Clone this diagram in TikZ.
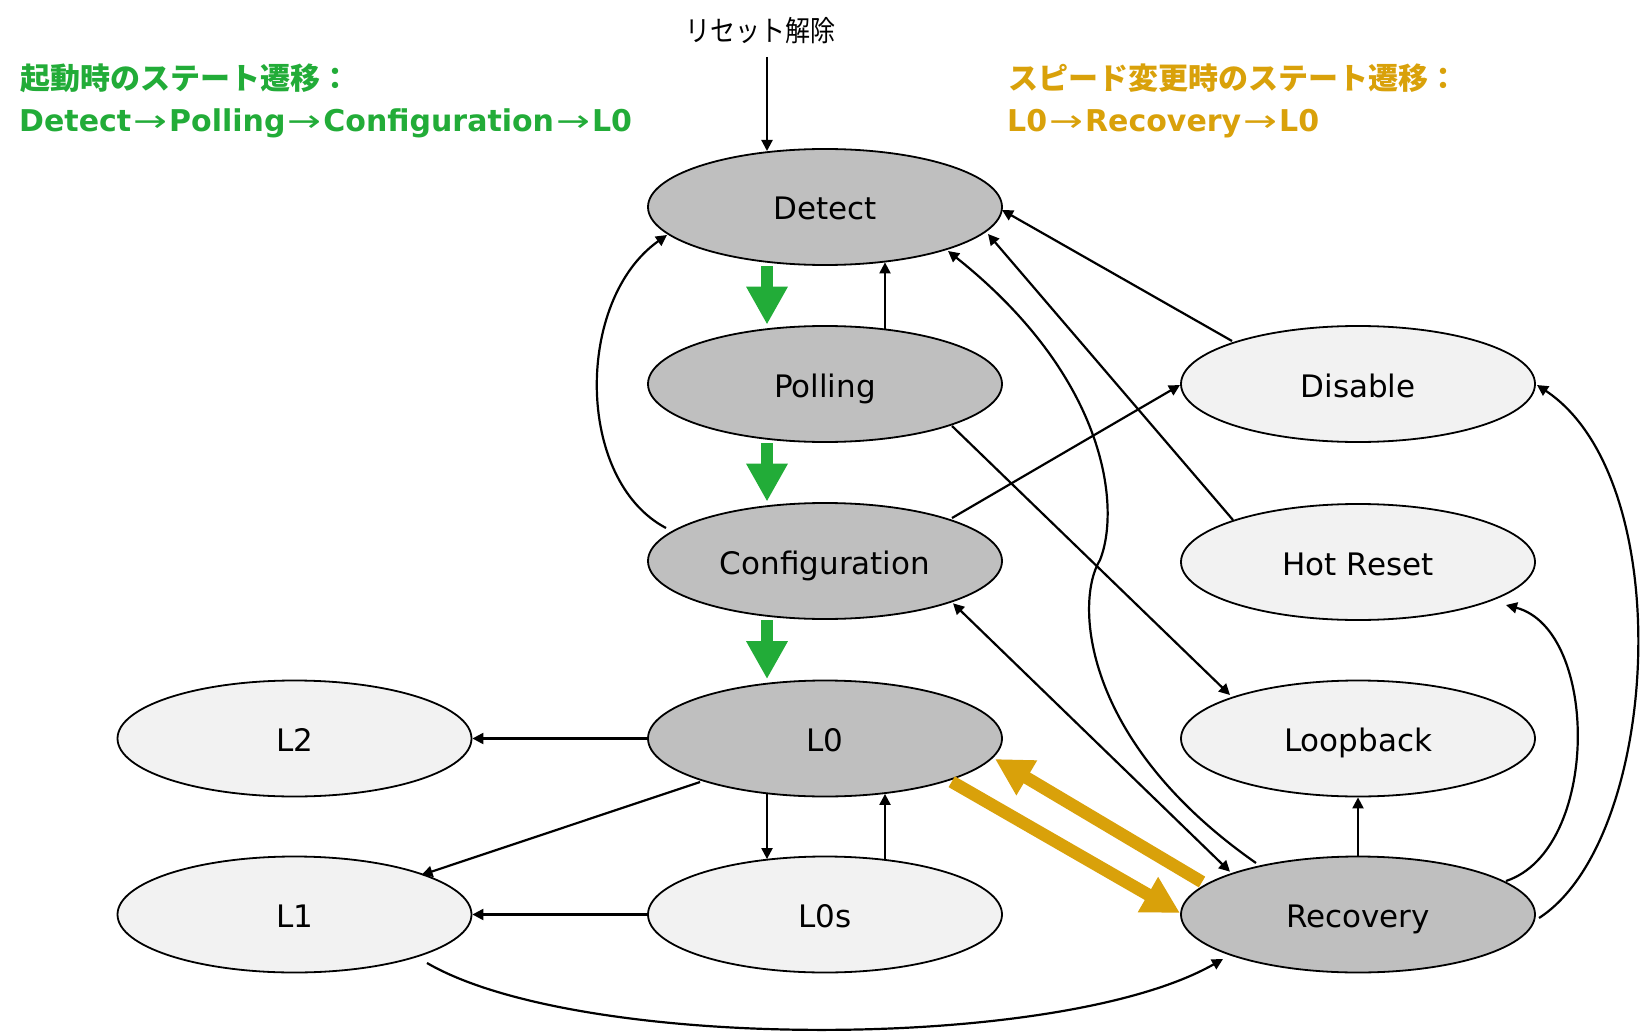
\documentclass[tikz,border=0pt]{standalone}
\usepackage{fontspec}
\setmainfont{DejaVu Sans}
\newfontfamily\jp{Noto Sans CJK JP}
\usetikzlibrary{shapes.geometric,arrows.meta}
\definecolor{stgreen}{RGB}{34,172,56}
\definecolor{stgold}{RGB}{217,161,10}
\definecolor{darkfill}{RGB}{191,191,191}
\definecolor{lightfill}{RGB}{242,242,242}
\newcommand\rarr{\hspace{2pt}\scalebox{1.35}[1]{\mdseries →}\hspace{2pt}}
\begin{document}
\begin{tikzpicture}[x=1pt,y=-1pt,
  st/.style={ellipse, draw=black, line width=1.8pt, minimum width=354pt, minimum height=116pt, inner sep=0pt, text height=30pt, text depth=4pt, font=\fontsize{31}{37}\selectfont},
  dk/.style={st, fill=darkfill},
  lt/.style={st, fill=lightfill},
  conn/.style={line width=2.2pt, -{Triangle[length=11pt,width=11pt]}},
  biconn/.style={line width=2.2pt, {Triangle[length=11pt,width=11pt]}-{Triangle[length=11pt,width=11pt]}},
  greenarrow/.style={draw=stgreen, line width=12.5pt, -{Triangle[length=38pt,width=39pt]}, shorten >=4pt, shorten <=4pt},
  goldarrow/.style={draw=stgold, line width=12.5pt, -{Triangle[length=37pt,width=38pt]}},
  title/.style={anchor=base west, inner sep=0pt},
]
\fill[white] (0,0) rectangle (1641,1032);
\useasboundingbox (0,0) rectangle (1641,1032);

% titles
\node[title, text=stgreen, font=\jp\bfseries\fontsize{30}{36}\selectfont] (gt1) at (20.5,90) {起動時のステート遷移：};
\node[title, text=stgreen, font=\bfseries\fontsize{30}{36}\selectfont] (gt2) at (19,131.5) {Detect\rarr Polling\rarr Configuration\rarr L0};
\node[title, text=stgold, font=\jp\bfseries\fontsize{30}{36}\selectfont] (ot1) at (1008,90) {スピード変更時のステート遷移：};
\node[title, text=stgold, font=\bfseries\fontsize{30}{36}\selectfont] (ot2) at (1007,131.5) {L0\rarr Recovery\rarr L0};

\node[font=\jp\fontsize{25}{30}\selectfont, inner sep=0pt] (reset) at (760,31) {\scalebox{1}[1.15]{リセット解除}};
\coordinate (rs) at (767,57);

% states
\node[dk] (D)   at (825,207)   {Detect};
\node[dk] (P)   at (825,384)   {Polling};
\node[dk] (C)   at (825,561)   {Configuration};
\node[dk] (L0)  at (825,738.5) {L0};
\node[lt] (L0s) at (825,914.5) {L0s};
\node[lt] (L2)  at (294.5,738.5) {L2};
\node[lt] (L1)  at (294.5,914.5) {L1};
\node[lt] (Dis) at (1358,384)  {Disable};
\node[lt] (HR)  at (1358,562)  {Hot Reset};
\node[lt] (LB)  at (1358,738.5) {Loopback};
\node[dk] (R)   at (1358,914.5) {Recovery};

% reset
\draw[conn] (rs) -- ([shift={(-58,-56)}]D.center);

% green start-up path
\draw[greenarrow] ([shift={(-58,55.4)}]D.center) -- ([shift={(-58,-55.4)}]P.center);
\draw[greenarrow] ([shift={(-58,55.4)}]P.center) -- ([shift={(-58,-55.4)}]C.center);
\draw[greenarrow] ([shift={(-58,55.4)}]C.center) -- ([shift={(-58,-55.4)}]L0.center);

% black connectors
\draw[conn] ([shift={(60,-55.4)}]P.center) -- ([shift={(60,55.4)}]D.center);
\draw[conn] ([shift={(-159,-33)}]C.center) .. controls (575,480) and (575,300) .. ([shift={(-158,28)}]D.center);
\draw[conn] ([shift={(127,-43)}]C.center) -- ([shift={(-178,1)}]Dis.center);
\draw[conn] ([shift={(127,42)}]P.center) -- ([shift={(-128,-43.5)}]LB.center);
\draw[conn] ([shift={(-126,-43)}]Dis.center) -- ([shift={(177,3)}]D.center);
\draw[conn] ([shift={(-125,-42)}]HR.center) -- ([shift={(163,27)}]D.center);
\draw[conn] ([shift={(-102,-51.5)}]R.center) .. controls (1080,740) and (1075,600) .. (1100,560)
            .. controls (1120,510) and (1110,380) .. ([shift={(123,44)}]D.center);
\draw[biconn] ([shift={(128,42.3)}]C.center) -- ([shift={(-128,-42.8)}]R.center);
\draw[conn] (R.north) -- (LB.south);
\draw[conn] ([shift={(148,-33.5)}]R.center) .. controls (1600,850) and (1600,630) .. ([shift={(148,43)}]HR.center);
\draw[conn] ([shift={(181,3.5)}]R.center) .. controls (1660,840) and (1680,480) .. ([shift={(179,1)}]Dis.center);
\draw[conn] (L0.west) -- (L2.east);
\draw[conn] ([shift={(-125,43.5)}]L0.center) -- ([shift={(127,-39.5)}]L1.center);
\draw[conn] ([shift={(-58,55.4)}]L0.center) -- ([shift={(-58,-55.4)}]L0s.center);
\draw[conn] ([shift={(60,-55.4)}]L0s.center) -- ([shift={(60,55.4)}]L0.center);
\draw[conn] (L0s.west) -- (L1.east);
\draw[conn] ([shift={(132.5,48.5)}]L1.center) .. controls (580,1052) and (1060,1052) .. ([shift={(-135,44.5)}]R.center);

% gold speed-change path
\draw[goldarrow] ([shift={(126.7,43.2)}]L0.center) -- ([shift={(-178,-1.5)}]R.center);
\draw[goldarrow] ([shift={(-156,-32.5)}]R.center) -- ([shift={(170,20.5)}]L0.center);
\end{tikzpicture}
\end{document}
